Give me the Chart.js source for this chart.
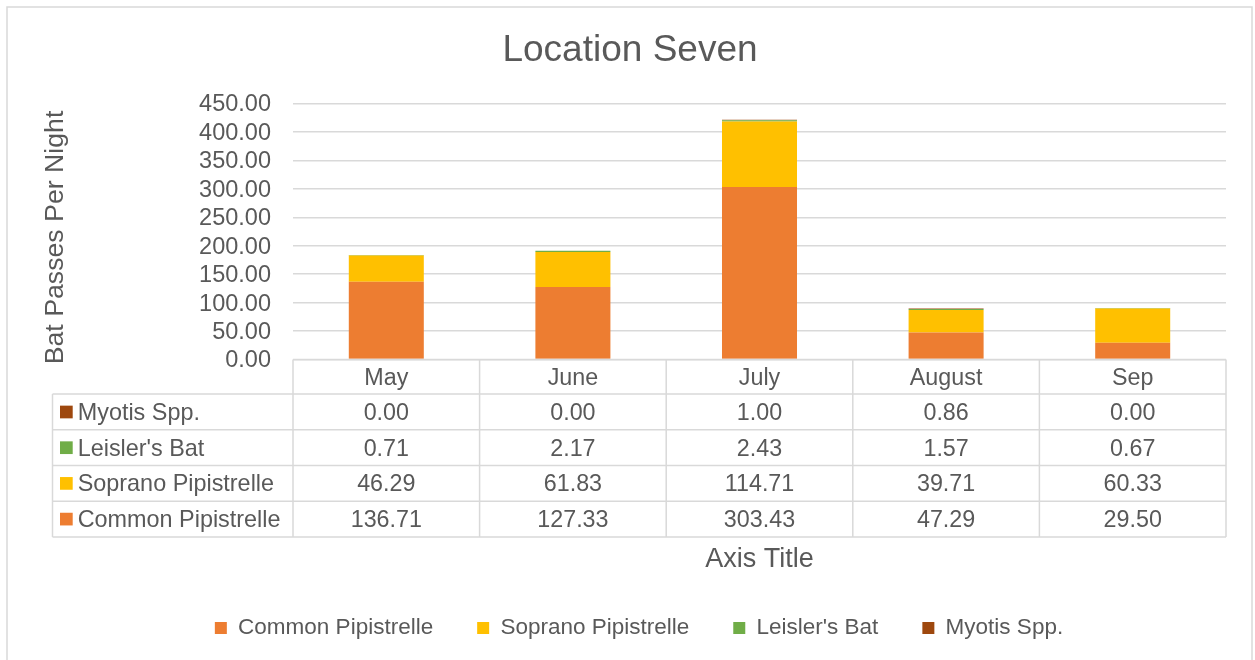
<!DOCTYPE html>
<html>
<head>
<meta charset="utf-8">
<title>Location Seven</title>
<script src="https://cdn.jsdelivr.net/npm/chart.js@4.4.1/dist/chart.umd.min.js"></script>
<style>
  html, body { margin: 0; padding: 0; background: #ffffff; }
  #wrap { position: relative; width: 1255px; height: 660px; }
</style>
</head>
<body>
<div id="wrap"><canvas id="chart"></canvas></div>
<script>
// Monthly survey months (x categories)
const months = ['May', 'June', 'July', 'August', 'Sep'];

// Mean bat passes per night for each species
const commonPipistrelle  = [136.71, 127.33, 303.43, 47.29, 29.50];
const sopranoPipistrelle = [46.29, 61.83, 114.71, 39.71, 60.33];
const leislersBat        = [0.71, 2.17, 2.43, 1.57, 0.67];
const myotisSpp          = [0.00, 0.00, 1.00, 0.86, 0.00];

// Value axis tick marks
const yTickValues = [0, 50, 100, 150, 200, 250, 300, 350, 400, 450];

const FONT = "'Liberation Sans', Arial, sans-serif";
const TEXT = '#595959';
const LINE = '#d9d9d9';

Chart.defaults.font.family = FONT;
Chart.defaults.color = TEXT;

// White background, outer frame and chart title
const frame = {
  id: 'frame',
  beforeDraw(chart) {
    const { ctx, width, height } = chart;
    ctx.save();
    ctx.fillStyle = '#ffffff';
    ctx.fillRect(0, 0, width, height);
    ctx.strokeStyle = LINE;
    ctx.lineWidth = 1.5;
    ctx.strokeRect(7, 7, 1245, height + 20);
    ctx.fillStyle = TEXT;
    ctx.font = `37px ${FONT}`;
    ctx.textAlign = 'center';
    ctx.textBaseline = 'middle';
    ctx.fillText('Location Seven', 630, 51);
    ctx.restore();
  }
};

// Axis titles
const axisTitles = {
  id: 'axisTitles',
  afterDraw(chart) {
    const { ctx, chartArea } = chart;
    ctx.save();
    ctx.fillStyle = TEXT;
    ctx.font = `26.7px ${FONT}`;
    ctx.textAlign = 'center';
    ctx.textBaseline = 'middle';
    ctx.translate(56, 237.5);
    ctx.rotate(-Math.PI / 2);
    ctx.fillText('Bat Passes Per Night', 0, 0);
    ctx.restore();

    ctx.save();
    ctx.fillStyle = TEXT;
    ctx.font = `27px ${FONT}`;
    ctx.textAlign = 'center';
    ctx.textBaseline = 'alphabetic';
    ctx.fillText('Axis Title', (chartArea.left + chartArea.right) / 2, 566.5);
    ctx.restore();
  }
};

// Data table under the plot, aligned to the category scale
const dataTable = {
  id: 'dataTable',
  afterDraw(chart) {
    const { ctx, chartArea, scales: { x } } = chart;
    const n = months.length;
    const colW = (chartArea.right - chartArea.left) / n;
    const top = chartArea.bottom;
    const headerH = 34.6;
    const rowH = 35.7;
    const textShift = 1.5;
    const rowsTop = top + headerH;
    const rows = chart.data.datasets.slice().reverse();
    const bottom = rowsTop + rows.length * rowH;
    const labelLeft = 52.5;

    ctx.save();
    ctx.strokeStyle = LINE;
    ctx.lineWidth = 1.5;
    ctx.beginPath();
    ctx.moveTo(chartArea.left, top);
    ctx.lineTo(chartArea.right, top);
    for (let r = 0; r <= rows.length; r++) {
      const y = rowsTop + r * rowH;
      ctx.moveTo(labelLeft, y);
      ctx.lineTo(chartArea.right, y);
    }
    for (let i = 0; i <= n; i++) {
      const xb = chartArea.left + i * colW;
      ctx.moveTo(xb, top);
      ctx.lineTo(xb, bottom);
    }
    ctx.moveTo(labelLeft, rowsTop);
    ctx.lineTo(labelLeft, bottom);
    ctx.stroke();

    ctx.fillStyle = TEXT;
    ctx.textAlign = 'center';
    ctx.textBaseline = 'middle';
    ctx.font = `23.3px ${FONT}`;
    months.forEach((m, i) => {
      ctx.fillText(m, x.getPixelForValue(i), top + headerH / 2 + textShift);
    });

    rows.forEach((ds, r) => {
      const cy = rowsTop + r * rowH + rowH / 2;
      ctx.fillStyle = ds.backgroundColor;
      ctx.fillRect(60, cy - 6.3, 12.7, 12.7);
      ctx.fillStyle = TEXT;
      ctx.textAlign = 'left';
      ctx.font = `23.4px ${FONT}`;
      ctx.fillText(ds.label, 77.7, cy + textShift);
      ctx.textAlign = 'center';
      ctx.font = `23.3px ${FONT}`;
      ds.data.forEach((v, i) => {
        ctx.fillText(v.toFixed(2), x.getPixelForValue(i), cy + textShift);
      });
    });
    ctx.restore();
  }
};

const barOpts = { borderWidth: 0, categoryPercentage: 0.402, barPercentage: 1.0 };

new Chart(document.getElementById('chart'), {
  type: 'bar',
  data: {
    labels: months,
    datasets: [
      { label: 'Common Pipistrelle',  data: commonPipistrelle,  backgroundColor: '#ED7D31', ...barOpts },
      { label: 'Soprano Pipistrelle', data: sopranoPipistrelle, backgroundColor: '#FFC000', ...barOpts },
      { label: "Leisler's Bat",       data: leislersBat,        backgroundColor: '#70AD47', ...barOpts },
      { label: 'Myotis Spp.',         data: myotisSpp,          backgroundColor: '#9E480E', ...barOpts }
    ]
  },
  options: {
    responsive: true,
    maintainAspectRatio: false,
    animation: false,
    layout: { padding: { top: 103.5, left: 23, right: 0, bottom: 10.75 } },
    plugins: {
      title: { display: false },
      legend: {
        position: 'bottom',
        labels: {
          boxWidth: 12,
          boxHeight: 12,
          padding: 44,
          color: TEXT,
          font: { size: 22.5, family: FONT }
        }
      },
      tooltip: { enabled: false }
    },
    scales: {
      x: {
        stacked: true,
        ticks: { display: false },
        grid: { display: false, drawTicks: false },
        border: { display: false },
        afterFit(s) { s.height = 213.25; }
      },
      y: {
        stacked: true,
        min: 0,
        max: 450,
        afterBuildTicks(s) { s.ticks = yTickValues.map(v => ({ value: v })); },
        ticks: {
          color: TEXT,
          padding: 22,
          autoSkip: false,
          labelOffset: 1.5,
          font: { size: 23.5, family: FONT },
          callback: v => Number(v).toFixed(2)
        },
        grid: { color: LINE, lineWidth: 1.5, drawTicks: false },
        border: { display: false },
        afterFit(s) { s.width = 270; }
      },
      yRight: {
        position: 'right',
        display: true,
        ticks: { display: false },
        grid: { display: false, drawTicks: false },
        border: { display: false },
        afterFit(s) { s.width = 29; }
      }
    }
  },
  plugins: [frame, axisTitles, dataTable]
});
</script>
</body>
</html>
